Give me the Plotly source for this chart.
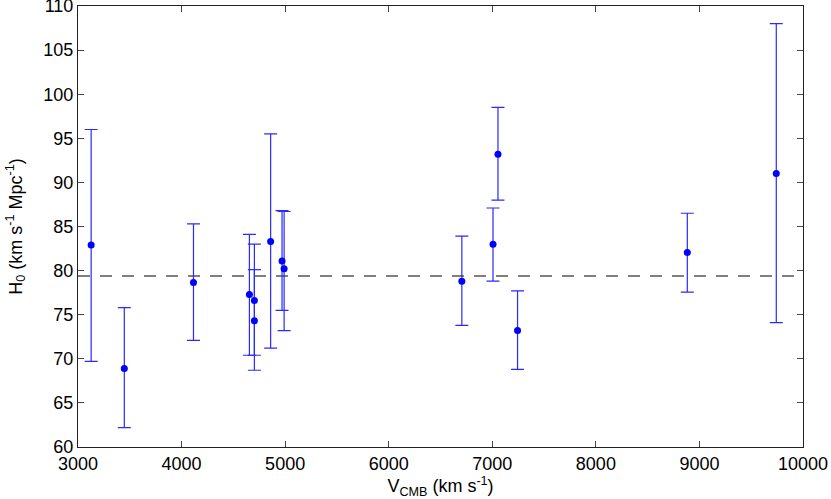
"""Hubble constant vs CMB-frame velocity, error bar chart."""

import plotly.graph_objects as go

# CMB-frame recession velocity (km/s)
v_cmb = [3127, 3447, 4115, 4655, 4703, 4703, 4860, 4970, 4990,
         6706, 7007, 7055, 7244, 8883, 9742]
# H0 estimate and its error range (km/s/Mpc)
h0 = [82.9, 68.9, 78.65, 77.3, 76.6, 74.3, 83.3, 81.1, 80.2,
      78.8, 83.0, 93.2, 73.2, 82.05, 91.0]
h0_upper = [96.0, 75.8, 85.3, 84.1, 83.0, 80.1, 95.5, 86.8, 86.7,
            83.9, 87.1, 98.5, 77.7, 86.5, 108.0]
h0_lower = [69.7, 62.2, 72.1, 70.4, 70.4, 68.7, 71.2, 75.5, 73.2,
            73.8, 78.8, 88.0, 68.8, 77.55, 74.1]
h0_mean = 79.4

x_range = [3000, 10000]
y_range = [60, 110]
x_ticks = [3000, 4000, 5000, 6000, 7000, 8000, 9000, 10000]
y_ticks = [60, 65, 70, 75, 80, 85, 90, 95, 100, 105, 110]

FONT = "Liberation Sans, Arial, Helvetica, sans-serif"

fig = go.Figure()

fig.add_trace(go.Scatter(
    x=x_range,
    y=[h0_mean, h0_mean],
    mode="lines",
    line=dict(color="#555555", width=1.5, dash="12px,10px"),
    hoverinfo="skip",
    showlegend=False,
))

fig.add_trace(go.Scatter(
    x=v_cmb,
    y=h0,
    mode="markers",
    marker=dict(color="#0000FF", size=7),
    error_y=dict(
        type="data",
        symmetric=False,
        array=[u - m for u, m in zip(h0_upper, h0)],
        arrayminus=[m - l for m, l in zip(h0, h0_lower)],
        color="#2a2aff",
        thickness=1.2,
        width=6.5,
    ),
    showlegend=False,
))

axis_common = dict(
    showgrid=False,
    zeroline=False,
    showline=True,
    linecolor="#222222",
    linewidth=1,
    mirror="ticks",
    ticks="inside",
    ticklen=6,
    tickwidth=1,
    tickcolor="#444444",
    tickfont=dict(family=FONT, size=18, color="black"),
    tickformat="d",
    automargin=False,
    ticklabeloverflow="allow",
)

fig.update_layout(
    width=831,
    height=499,
    margin=dict(l=78, r=28, t=6, b=52),
    paper_bgcolor="white",
    plot_bgcolor="white",
    font=dict(family=FONT, color="black"),
    xaxis=dict(
        range=x_range,
        tickvals=x_ticks,
        title=dict(text="V<sub>CMB</sub> (km s<sup>-1</sup>)",
                   font=dict(family=FONT, size=18), standoff=2),
        **axis_common,
    ),
    yaxis=dict(
        range=y_range,
        tickvals=y_ticks,
        title=dict(text="H<sub>0</sub> (km s<sup>-1</sup> Mpc<sup>-1</sup>)",
                   font=dict(family=FONT, size=18), standoff=16),
        **axis_common,
    ),
)

# the page body has a default 8px margin; drop it so the figure fills the window
fig.write_html(
    "out.html",
    config={"displayModeBar": False},
    post_script="document.body.style.margin = '0';",
)
